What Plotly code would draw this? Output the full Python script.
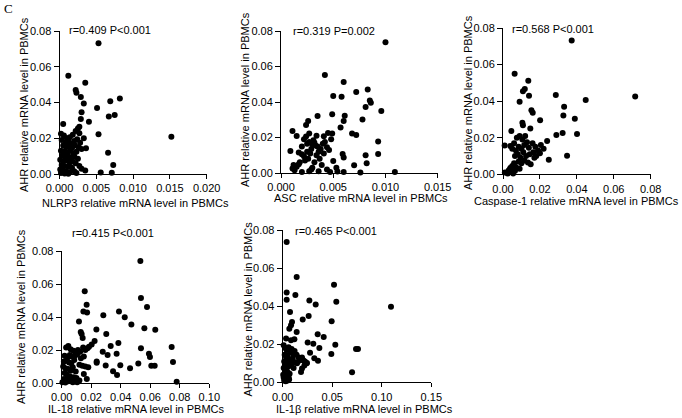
import plotly.graph_objects as go

# AHR vs inflammasome genes, relative mRNA level in PBMCs
nlrp3_x = [0.0053, 0.0012, 0.0035, 0.0022, 0.0023, 0.0029, 0.0082, 0.0069, 0.0033, 0.0051,
           0.0030, 0.0075, 0.0067, 0.0029, 0.0040, 0.0005, 0.0152, 0.0053, 0.0066, 0.0073,
           0.0071, 0.0056, 0.0035, 0.0036, 0.0033, 0.0027, 0.0027,
           0.0002, 0.0006, 0.0010, 0.0014, 0.0018, 0.0022, 0.0025, 0.0003, 0.0008, 0.0012,
           0.0016, 0.0020, 0.0024, 0.0028, 0.0005, 0.0009, 0.0013, 0.0017, 0.0021, 0.0026,
           0.0030, 0.0002, 0.0006, 0.0011, 0.0015, 0.0019, 0.0023, 0.0004, 0.0008, 0.0012,
           0.0016, 0.0020, 0.0025, 0.0001, 0.0005, 0.0010, 0.0014, 0.0018, 0.0022, 0.0003,
           0.0007, 0.0012, 0.0017, 0.0027, 0.0001, 0.0005, 0.0009, 0.0014, 0.0020, 0.0002,
           0.0007, 0.0012, 0.0023, 0.0030]
nlrp3_ahr = [0.0731, 0.0550, 0.0511, 0.0470, 0.0455, 0.0431, 0.0423, 0.0407, 0.0395, 0.0369,
             0.0345, 0.0330, 0.0321, 0.0308, 0.0293, 0.0280, 0.0209, 0.0222, 0.0119, 0.0050,
             0.0007, 0.0009, 0.0019, 0.0144, 0.0200, 0.0265, 0.0228,
             0.0225, 0.0215, 0.0200, 0.0205, 0.0220, 0.0240, 0.0255, 0.0190, 0.0175, 0.0180,
             0.0170, 0.0185, 0.0195, 0.0175, 0.0160, 0.0150, 0.0155, 0.0145, 0.0160, 0.0150,
             0.0140, 0.0130, 0.0125, 0.0120, 0.0130, 0.0115, 0.0125, 0.0105, 0.0095, 0.0100,
             0.0090, 0.0100, 0.0085, 0.0080, 0.0070, 0.0075, 0.0065, 0.0070, 0.0060, 0.0050,
             0.0045, 0.0040, 0.0035, 0.0045, 0.0025, 0.0020, 0.0015, 0.0010, 0.0015, 0.0005,
             0.0003, 0.0002, 0.0005, 0.0030]

asc_x = [0.0100, 0.0042, 0.0060, 0.0083, 0.0072, 0.0050, 0.0058, 0.0085, 0.0086, 0.0081,
         0.0096, 0.0035, 0.0049, 0.0061, 0.0078, 0.0060, 0.0057, 0.0026, 0.0024, 0.0011,
         0.0015, 0.0027, 0.0041, 0.0049, 0.0068, 0.0072, 0.0093, 0.0093, 0.0081, 0.0082,
         0.0070, 0.0076, 0.0109, 0.0059, 0.0060, 0.0050, 0.0053, 0.0054, 0.0060, 0.0009,
         0.0017, 0.0020, 0.0022, 0.0025, 0.0028, 0.0018, 0.0023, 0.0026, 0.0029, 0.0030,
         0.0032, 0.0033, 0.0027, 0.0025, 0.0031, 0.0035, 0.0036, 0.0038, 0.0040, 0.0042,
         0.0044, 0.0046, 0.0048, 0.0034, 0.0037, 0.0039, 0.0030, 0.0027, 0.0020, 0.0013,
         0.0015, 0.0017, 0.0011, 0.0032, 0.0041, 0.0044, 0.0047, 0.0036, 0.0029, 0.0012,
         0.0022, 0.0020, 0.0024, 0.0034, 0.0045]
asc_ahr = [0.0736, 0.0552, 0.0513, 0.0471, 0.0456, 0.0434, 0.0430, 0.0408, 0.0396, 0.0372,
           0.0349, 0.0321, 0.0331, 0.0323, 0.0302, 0.0293, 0.0257, 0.0293, 0.0270, 0.0237,
           0.0208, 0.0223, 0.0207, 0.0222, 0.0223, 0.0214, 0.0177, 0.0107, 0.0100, 0.0055,
           0.0043, 0.0003, 0.0006, 0.0107, 0.0088, 0.0068, 0.0030, 0.0008, 0.0006, 0.0124,
           0.0115, 0.0105, 0.0095, 0.0120, 0.0110, 0.0060, 0.0070, 0.0080, 0.0135, 0.0160,
           0.0170, 0.0155, 0.0175, 0.0165, 0.0185, 0.0150, 0.0120, 0.0135, 0.0165, 0.0175,
           0.0145, 0.0130, 0.0190, 0.0100, 0.0080, 0.0045, 0.0030, 0.0010, 0.0005, 0.0015,
           0.0035, 0.0050, 0.0025, 0.0060, 0.0110, 0.0020, 0.0005, 0.0010, 0.0020, 0.0045,
           0.0190, 0.0150, 0.0205, 0.0210, 0.0225]

casp1_x = [0.0372, 0.0063, 0.0137, 0.0118, 0.0108, 0.0286, 0.0141, 0.0716, 0.0448, 0.0090,
           0.0331, 0.0154, 0.0161, 0.0327, 0.0201, 0.0389, 0.0105, 0.0108, 0.0148, 0.0289,
           0.0323, 0.0401, 0.0045, 0.0239, 0.0347, 0.0248, 0.0009,
           0.0040, 0.0060, 0.0075, 0.0090, 0.0105, 0.0120, 0.0130, 0.0050, 0.0070, 0.0085,
           0.0100, 0.0115, 0.0140, 0.0160, 0.0175, 0.0190, 0.0205, 0.0220, 0.0065, 0.0080,
           0.0095, 0.0110, 0.0125, 0.0145, 0.0165, 0.0180, 0.0200, 0.0085, 0.0100, 0.0115,
           0.0135, 0.0150, 0.0170, 0.0060, 0.0050, 0.0070, 0.0090, 0.0035, 0.0045, 0.0025,
           0.0010, 0.0055, 0.0040, 0.0030, 0.0065]
casp1_ahr = [0.0731, 0.0550, 0.0512, 0.0466, 0.0454, 0.0434, 0.0430, 0.0425, 0.0406, 0.0397,
             0.0370, 0.0350, 0.0337, 0.0321, 0.0295, 0.0304, 0.0282, 0.0268, 0.0250, 0.0215,
             0.0226, 0.0220, 0.0237, 0.0182, 0.0102, 0.0080, 0.0157,
             0.0155, 0.0170, 0.0200, 0.0210, 0.0190, 0.0210, 0.0175, 0.0140, 0.0130, 0.0150,
             0.0140, 0.0160, 0.0145, 0.0170, 0.0150, 0.0130, 0.0160, 0.0140, 0.0100, 0.0110,
             0.0090, 0.0120, 0.0100, 0.0110, 0.0120, 0.0100, 0.0115, 0.0070, 0.0060, 0.0075,
             0.0065, 0.0055, 0.0090, 0.0060, 0.0045, 0.0040, 0.0030, 0.0025, 0.0015, 0.0005,
             0.0010, 0.0005, 0.0035, 0.0020, 0.0020]

il18_x = [0.0533, 0.0156, 0.0537, 0.0169, 0.0578, 0.0147, 0.0172, 0.0388, 0.0282, 0.0427,
          0.0472, 0.0117, 0.0560, 0.0634, 0.0235, 0.0302, 0.0129, 0.0135, 0.0142, 0.0223,
          0.0203, 0.0384, 0.0332, 0.0537, 0.0745, 0.0278, 0.0311, 0.0372, 0.0591, 0.0598,
          0.0607, 0.0630, 0.0754, 0.0519, 0.0463, 0.0397, 0.0298, 0.0348, 0.0375, 0.0779,
          0.0237, 0.0237,
          0.0030, 0.0045, 0.0060, 0.0080, 0.0095, 0.0110, 0.0125, 0.0145, 0.0160, 0.0175,
          0.0185, 0.0020, 0.0040, 0.0055, 0.0070, 0.0090, 0.0105, 0.0130, 0.0150, 0.0015,
          0.0030, 0.0050, 0.0065, 0.0085, 0.0120, 0.0140, 0.0160, 0.0180, 0.0010, 0.0025,
          0.0045, 0.0060, 0.0075, 0.0095, 0.0150, 0.0020, 0.0035, 0.0055, 0.0080, 0.0015,
          0.0030, 0.0045, 0.0060, 0.0075, 0.0090, 0.0105, 0.0120, 0.0005, 0.0025, 0.0170,
          0.0040, 0.0100]
il18_ahr = [0.0739, 0.0556, 0.0515, 0.0474, 0.0460, 0.0434, 0.0428, 0.0434, 0.0411, 0.0399,
            0.0354, 0.0373, 0.0332, 0.0322, 0.0324, 0.0297, 0.0309, 0.0297, 0.0273, 0.0254,
            0.0234, 0.0242, 0.0224, 0.0210, 0.0218, 0.0189, 0.0169, 0.0177, 0.0177, 0.0157,
            0.0104, 0.0104, 0.0128, 0.0118, 0.0090, 0.0108, 0.0106, 0.0071, 0.0049, 0.0008,
            0.0122, 0.0130,
            0.0215, 0.0225, 0.0205, 0.0195, 0.0185, 0.0200, 0.0190, 0.0215, 0.0200, 0.0210,
            0.0220, 0.0165, 0.0155, 0.0170, 0.0160, 0.0165, 0.0175, 0.0150, 0.0160, 0.0130,
            0.0135, 0.0125, 0.0120, 0.0140, 0.0110, 0.0105, 0.0100, 0.0095, 0.0100, 0.0090,
            0.0085, 0.0075, 0.0095, 0.0070, 0.0055, 0.0060, 0.0050, 0.0040, 0.0035, 0.0025,
            0.0020, 0.0010, 0.0015, 0.0005, 0.0010, 0.0005, 0.0015, 0.0005, 0.0003, 0.0025,
            0.0030, 0.0030]

il1b_x = [0.0040, 0.0141, 0.0518, 0.0040, 0.0128, 0.0040, 0.0269, 0.0541, 0.0333, 0.1093,
          0.0074, 0.0494, 0.0262, 0.0202, 0.0094, 0.0084, 0.0067, 0.0141, 0.0353, 0.0414,
          0.0034, 0.0084, 0.0118, 0.0252, 0.0309, 0.0531, 0.0740, 0.0760, 0.0370, 0.0491,
          0.0276, 0.0319, 0.0356, 0.0700, 0.0185, 0.0245, 0.0219, 0.0195,
          0.0010, 0.0025, 0.0040, 0.0060, 0.0075, 0.0090, 0.0105, 0.0120, 0.0140, 0.0160,
          0.0020, 0.0035, 0.0050, 0.0065, 0.0080, 0.0100, 0.0125, 0.0145, 0.0170, 0.0015,
          0.0030, 0.0045, 0.0060, 0.0085, 0.0110, 0.0010, 0.0025, 0.0040, 0.0055, 0.0070,
          0.0005, 0.0020, 0.0035, 0.0050, 0.0015, 0.0030, 0.0065, 0.0010, 0.0045, 0.0060,
          0.0195, 0.0210, 0.0225, 0.0240]
il1b_ahr = [0.0738, 0.0554, 0.0514, 0.0472, 0.0460, 0.0435, 0.0430, 0.0424, 0.0410, 0.0398,
            0.0370, 0.0321, 0.0349, 0.0331, 0.0317, 0.0300, 0.0282, 0.0265, 0.0253, 0.0239,
            0.0230, 0.0221, 0.0226, 0.0209, 0.0203, 0.0198, 0.0175, 0.0175, 0.0181, 0.0149,
            0.0156, 0.0126, 0.0114, 0.0053, 0.0054, 0.0102, 0.0089, 0.0072,
            0.0195, 0.0180, 0.0170, 0.0185, 0.0160, 0.0175, 0.0150, 0.0165, 0.0145, 0.0130,
            0.0145, 0.0130, 0.0140, 0.0120, 0.0110, 0.0125, 0.0105, 0.0100, 0.0115, 0.0110,
            0.0095, 0.0105, 0.0085, 0.0090, 0.0075, 0.0075, 0.0060, 0.0065, 0.0050, 0.0045,
            0.0040, 0.0030, 0.0020, 0.0010, 0.0010, 0.0005, 0.0015, 0.0025, 0.0035, 0.0025,
            0.0130, 0.0115, 0.0110, 0.0100]

genes = ["NLRP3", "ASC", "Caspase-1", "IL-18", "IL-1β"]
stats = ["r=0.409 P<0.001", "r=0.319 P=0.002", "r=0.568 P<0.001",
         "r=0.415 P<0.001", "r=0.465 P<0.001"]
x_max = [0.020, 0.015, 0.08, 0.10, 0.15]
x_step = [0.005, 0.005, 0.02, 0.02, 0.05]
x_fmt = [".3f", ".3f", ".2f", ".2f", ".2f"]
xs = [nlrp3_x, asc_x, casp1_x, il18_x, il1b_x]
ys = [nlrp3_ahr, asc_ahr, casp1_ahr, il18_ahr, il1b_ahr]

W, H = 682, 418
# plot boxes in pixels: left, right, top, bottom
boxes = [(59.5, 206.7, 31, 174), (281, 437.7, 31, 173), (503, 650.7, 28, 174.3),
         (61.7, 209.3, 251, 383), (282.7, 431.3, 230.3, 382.3)]
# label positions in pixels: stat text, x title, y title
stat_pos = [(110, 30), (334, 30.7), (553, 29.3), (113, 233), (336, 231)]
xt_pos = [(135.5, 202.5), (360.5, 198), (576.5, 201), (136, 409), (364.5, 408.5)]
yt_pos = [(24, 105), (245, 100), (468, 102), (21, 317), (247.5, 309)]

fig = go.Figure()
font = dict(family="Liberation Sans, Arial, sans-serif", color="black")
layout = dict(width=W, height=H, margin=dict(l=0, r=0, t=0, b=0, autoexpand=False),
              plot_bgcolor="white", paper_bgcolor="white", showlegend=False)


def label(text, px, py, size=11, angle=0, fnt=font):
    return dict(text=text, x=px / W, y=1 - py / H, xref="paper", yref="paper",
                xanchor="center", yanchor="middle", showarrow=False, textangle=angle,
                font=dict(size=size, **fnt))


annots = []
for i in range(5):
    n = "" if i == 0 else str(i + 1)
    fig.add_trace(go.Scatter(x=xs[i], y=ys[i], mode="markers", cliponaxis=False,
                             marker=dict(color="black", size=6),
                             xaxis="x" + n, yaxis="y" + n))
    l, r, t, b = boxes[i]
    axis_style = dict(showline=True, linecolor="black", linewidth=1,
                      ticks="outside", tickcolor="black",
                      showgrid=False, zeroline=False, automargin=False,
                      tickfont=dict(size=11, **font))
    layout["xaxis" + n] = dict(domain=[l / W, r / W], anchor="y" + n, range=[0, x_max[i]],
                               dtick=x_step[i], tick0=0, tickformat=x_fmt[i], ticklen=4,
                               **axis_style)
    layout["yaxis" + n] = dict(domain=[1 - b / H, 1 - t / H], anchor="x" + n, range=[0, 0.08],
                               dtick=0.02, tick0=0, tickformat=".2f", ticklen=5,
                               **axis_style)
    annots.append(label(stats[i], *stat_pos[i]))
    annots.append(label(genes[i] + " relative mRNA level in PBMCs", *xt_pos[i]))
    annots.append(label("AHR relative mRNA level in PBMCs", *yt_pos[i], angle=-90))

annots.append(label("C", 8, 9, size=13,
                    fnt=dict(family="Liberation Serif, Times New Roman, serif", color="black")))
layout["annotations"] = annots
fig.update_layout(**layout)
fig.write_html("out.html", config={"displayModeBar": False},
               post_script="document.body.style.margin='0';")
